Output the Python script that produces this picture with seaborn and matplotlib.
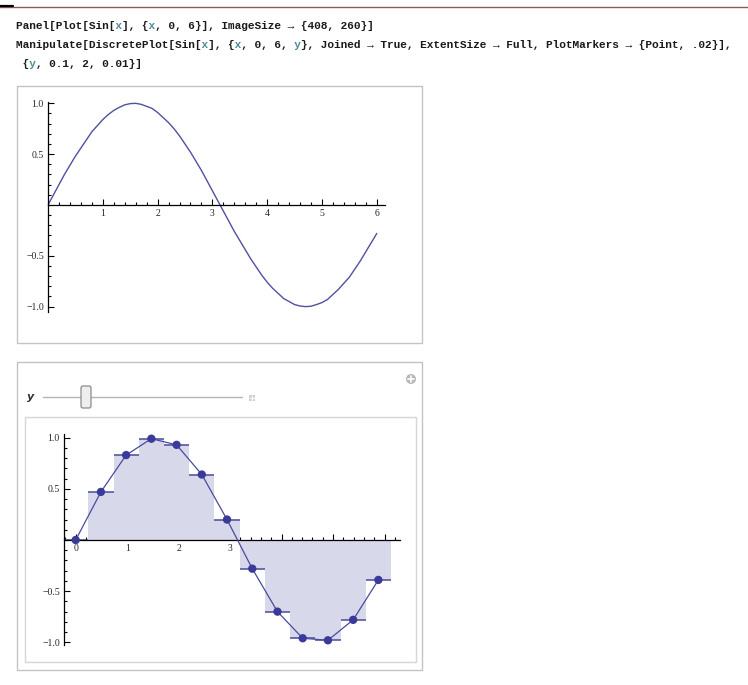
import numpy as np
import pandas as pd
import matplotlib
matplotlib.use("Agg")
import matplotlib.pyplot as plt
import seaborn as sns
from matplotlib.patches import Rectangle, FancyBboxPatch, Circle
from matplotlib.ticker import FixedLocator, MultipleLocator

# --- data ---
# Plot[Sin[x], {x, 0, 6}]
curve_x = [0.0, 0.1, 0.2, 0.3, 0.4, 0.5, 0.6, 0.7, 0.8, 0.9,
           1.0, 1.1, 1.2, 1.3, 1.4, 1.5, 1.6, 1.7, 1.8, 1.9,
           2.0, 2.1, 2.2, 2.3, 2.4, 2.5, 2.6, 2.7, 2.8, 2.9,
           3.0, 3.1, 3.2, 3.3, 3.4, 3.5, 3.6, 3.7, 3.8, 3.9,
           4.0, 4.1, 4.2, 4.3, 4.4, 4.5, 4.6, 4.7, 4.8, 4.9,
           5.0, 5.1, 5.2, 5.3, 5.4, 5.5, 5.6, 5.7, 5.8, 5.9, 6.0]
curve_y = [0.00, 0.10, 0.20, 0.30, 0.39, 0.48, 0.56, 0.64, 0.72, 0.78,
           0.84, 0.89, 0.93, 0.96, 0.985, 0.997, 1.00, 0.99, 0.97, 0.95,
           0.91, 0.86, 0.81, 0.75, 0.68, 0.60, 0.52, 0.43, 0.34, 0.24,
           0.14, 0.04, -0.06, -0.16, -0.26, -0.35, -0.44, -0.53, -0.61, -0.69,
           -0.76, -0.82, -0.87, -0.92, -0.95, -0.98, -0.994, -1.00, -0.996, -0.98,
           -0.96, -0.93, -0.88, -0.83, -0.77, -0.71, -0.63, -0.55, -0.46, -0.37, -0.28]

# DiscretePlot with step y = 0.49
step = 0.49
disc_x = [0.0, 0.49, 0.98, 1.47, 1.96, 2.45, 2.94, 3.43, 3.92, 4.41, 4.90, 5.39, 5.88]
disc_y = [0.0, 0.47, 0.83, 0.99, 0.93, 0.64, 0.20, -0.28, -0.70, -0.96, -0.98, -0.78, -0.39]

xticks_top = [1, 2, 3, 4, 5, 6]
xticks_bottom = [0, 1, 2, 3, 4, 5, 6]
yticks = [-1.0, -0.5, 0.5, 1.0]
ytick_labels = ["\u22121.0", "\u22120.5", "0.5", "1.0"]

code_lines = [
    [("Panel[Plot[Sin[", 0), ("x", 1), ("], {", 0), ("x", 1), (", 0, 6}], ImageSize \u2192 {408, 260}]", 0)],
    [("Manipulate[DiscretePlot[Sin[", 0), ("x", 1), ("], {", 0), ("x", 1), (", 0, 6, ", 0), ("y", 1),
     ("}, Joined \u2192 True, ExtentSize \u2192 Full, PlotMarkers \u2192 {Point, .02}],", 0)],
    [(" {", 0), ("y", 1), (", 0.1, 2, 0.01}]", 0)],
]

sns.set_style("white")
plt.rcParams["font.family"] = ["Liberation Serif", "DejaVu Serif"]

W, H = 748, 685
fig = plt.figure(figsize=(W / 100, H / 100), dpi=100)
fig.patch.set_facecolor("white")


def px_box(l, t, r, b):
    return [l / W, 1 - b / H, (r - l) / W, (b - t) / H]


# background layer in pixel coordinates (frames, slider, header)
bg = fig.add_axes([0, 0, 1, 1])
bg.set_xlim(0, W)
bg.set_ylim(H, 0)
bg.axis("off")

bg.plot([0, W], [7, 7], color="#8a5a5a", lw=1)
bg.plot([0, 13], [6, 6], color="black", lw=1.6)

bg.add_patch(Rectangle((17, 86), 405, 257, fill=False, ec="#c4c4c4", lw=1))
bg.add_patch(Rectangle((17, 362), 405, 308, fill=False, ec="#c4c4c4", lw=1))
bg.add_patch(Rectangle((25, 417), 391, 245, fill=False, ec="#d6d6d6", lw=1))

# slider
bg.text(31, 397, "y", fontsize=8, style="italic", weight="bold", family="DejaVu Sans",
        va="center", ha="center", color="#333333")
bg.plot([43, 242], [397, 397], color="#b4b4b4", lw=1)
bg.add_patch(FancyBboxPatch((81, 386), 10, 22, boxstyle="round,pad=0,rounding_size=2",
                            fc="#eeeeee", ec="#8c8c8c", lw=0.9, zorder=3))
bg.add_patch(Rectangle((249.5, 394.5), 6, 6, fc="#d2d2d2", ec="none"))
bg.plot([250.5, 254.5], [397.5, 397.5], color="white", lw=0.8)
bg.plot([252.5, 252.5], [395.5, 399.5], color="white", lw=0.8)
bg.add_patch(Circle((411, 379), 5, fc="#b8b8b8", ec="none"))
bg.plot([408, 414], [379, 379], color="white", lw=1.2)
bg.plot([411, 411], [376, 382], color="white", lw=1.2)

# header code lines (monospace, teal variables overlaid)
baselines = [29, 48, 67]
for segs, yb in zip(code_lines, baselines):
    black = "".join(s if c == 0 else " " * len(s) for s, c in segs)
    teal = "".join(s if c == 1 else " " * len(s) for s, c in segs)
    for txt, col in [(black, "#1a1a1a"), (teal, "#4f8c9a")]:
        bg.text(16, yb, txt, fontsize=8, family=["Liberation Mono", "DejaVu Sans Mono"],
                weight="bold", color=col, va="baseline", ha="left")


def mma_axes(ax, xlim, ylim, xticks, left_at_zero):
    ax.set_xlim(*xlim)
    ax.set_ylim(*ylim)
    for s in ["top", "right"]:
        ax.spines[s].set_visible(False)
    ax.spines["bottom"].set_position(("data", 0))
    if left_at_zero:
        ax.spines["left"].set_position(("data", 0))
    for s in ["bottom", "left"]:
        ax.spines[s].set_color("black")
        ax.spines[s].set_linewidth(0.9)
    ax.xaxis.set_major_locator(FixedLocator(xticks))
    ax.set_xticklabels([str(t) for t in xticks])
    ax.xaxis.set_minor_locator(MultipleLocator(0.2))
    ax.yaxis.set_major_locator(FixedLocator(yticks))
    ax.set_yticklabels(ytick_labels)
    ax.yaxis.set_minor_locator(MultipleLocator(0.1))
    ax.tick_params(which="both", direction="in", color="black", width=0.8,
                   labelsize=7, pad=3, bottom=True, left=True)
    ax.tick_params(which="major", length=4)
    ax.tick_params(which="minor", length=2.2)
    ax.set_xlabel("")
    ax.set_ylabel("")


# top: continuous plot
ax1 = fig.add_axes(px_box(48, 101.7, 385, 311.7), facecolor="none")
sns.lineplot(x=curve_x, y=curve_y, ax=ax1, color="#5050a2", lw=1)
mma_axes(ax1, (0, 6.15), (-1.05, 1.016), xticks_top, True)

# bottom: discrete plot with extent fill
ax2 = fig.add_axes(px_box(64, 434, 400, 645), facecolor="none")
ax2.bar(disc_x, disc_y, width=step, color="#d8d8eb", linewidth=0, zorder=1)
ax2.hlines(disc_y, [x - step / 2 for x in disc_x], [x + step / 2 for x in disc_x],
           color="#4a4a9e", lw=1.1, zorder=2)
sns.lineplot(x=disc_x, y=disc_y, ax=ax2, color="#4a4aa0", lw=0.9, zorder=3)
sns.scatterplot(x=disc_x, y=disc_y, ax=ax2, s=36, color="#3a3a98", edgecolor="none", zorder=4)
mma_axes(ax2, (-0.227, 6.30), (-1.026, 1.036), xticks_bottom, False)

fig.savefig("out.png", dpi=100)
